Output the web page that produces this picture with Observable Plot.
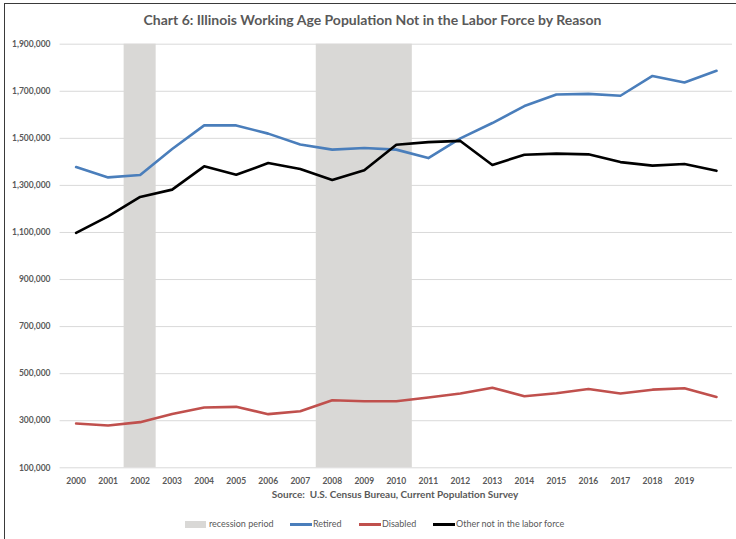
<!DOCTYPE html>
<html>
<head>
<meta charset="utf-8">
<script src="https://cdn.jsdelivr.net/npm/d3@7"></script>
<script src="https://cdn.jsdelivr.net/npm/@observablehq/plot@0.6"></script>
<style>
  html, body { margin: 0; padding: 0; background: #fff; }
  #wrap { position: relative; width: 736px; height: 539px; overflow: hidden; font-family: Lato, "Open Sans", sans-serif; color: #595959; }
  #border { position: absolute; left: 4px; top: 3px; width: 760px; height: 560px; border-left: 1.3px solid #3a3a3a; border-top: 1.3px solid #3a3a3a; }
  #title { position: absolute; left: 0; top: 11px; width: 745px; text-align: center; font-size: 14px; font-weight: bold; color: #595959; }
  #chart { position: absolute; left: 0; top: 30px; }
  #source { position: absolute; left: 0; top: 488px; width: 790px; text-align: center; font-size: 10px; font-weight: bold; color: #595959; }
  #legend { position: absolute; top: 518px; left: 0; width: 736px; height: 12px; font-size: 9px; color: #595959; }
  .item { position: absolute; top: 0; height: 12px; line-height: 12px; white-space: nowrap; }
  .sw { position: absolute; }
</style>
</head>
<body>
<div id="wrap">
  <div id="border"></div>
  <div id="title">Chart 6: Illinois Working Age Population Not in the Labor Force by Reason</div>
  <div id="chart"></div>
  <div id="source">Source:&nbsp; U.S. Census Bureau, Current Population Survey</div>
  <div id="legend"></div>
</div>
<script>
const years = [2000,2001,2002,2003,2004,2005,2006,2007,2008,2009,2010,2011,2012,2013,2014,2015,2016,2017,2018,2019,2020];
const yearLabels = [2000,2001,2002,2003,2004,2005,2006,2007,2008,2009,2010,2011,2012,2013,2014,2015,2016,2017,2018,2019];
const retired = [1378000,1334000,1344000,1455000,1555000,1555000,1520000,1474000,1452000,1459000,1452000,1416000,1500000,1565000,1637000,1686000,1689000,1681000,1765000,1737000,1787000];
const disabled = [288000,280000,294000,329000,356000,359000,328000,340000,387000,383000,383000,399000,416000,440000,404000,417000,435000,416000,432000,438000,401000];
const other = [1098000,1168000,1251000,1282000,1381000,1345000,1395000,1370000,1323000,1364000,1473000,1484000,1489000,1387000,1430000,1435000,1432000,1399000,1384000,1391000,1362000];
const recessionStart = [2001.5, 2007.5];
const recessionEnd = [2002.5, 2010.5];
const yTicks = [100000,300000,500000,700000,900000,1100000,1300000,1500000,1700000,1900000];
const seriesNames = ["Retired","Disabled","Other not in the labor force"];
const seriesColors = ["#4a7ebb","#c0504d","#000000"];

const rows = [];
years.forEach((yr, i) => {
  rows.push({year: yr, value: retired[i], series: seriesNames[0]});
  rows.push({year: yr, value: disabled[i], series: seriesNames[1]});
  rows.push({year: yr, value: other[i], series: seriesNames[2]});
});
const recessions = recessionStart.map((s, i) => ({start: s, end: recessionEnd[i]}));

const chart = Plot.plot({
  width: 736,
  height: 465,
  marginTop: 13.7,
  marginBottom: 27.7,
  marginLeft: 59.6,
  marginRight: 4,
  style: {fontFamily: "Lato, 'Open Sans', sans-serif", background: "transparent"},
  x: {domain: [1999.5, 2020.5], axis: null},
  y: {domain: [100000, 1900000], axis: null},
  color: {domain: seriesNames, range: seriesColors},
  marks: [
    Plot.ruleY(yTicks, {stroke: "#d9d9d9", strokeWidth: 1}),
    Plot.rect(recessions, {x1: "start", x2: "end", y1: 100000, y2: 1900000, fill: "#d9d8d6"}),
    Plot.line(rows, {x: "year", y: "value", z: "series", stroke: "series", strokeWidth: 2.6, strokeLinejoin: "round", strokeLinecap: "round"}),
    Plot.axisY(yTicks, {label: null, tickSize: 0, tickPadding: 9.6, tickFormat: d3.format(","), fontSize: 8.5, fontWeight: "bold", fill: "#595959"}),
    Plot.axisX(yearLabels, {label: null, tickSize: 0, tickPadding: 10, tickFormat: d => String(d), fontSize: 8.5, fontWeight: "bold", fill: "#595959"})
  ]
});
document.getElementById("chart").appendChild(chart);

// legend
const legend = document.getElementById("legend");
const items = [
  {label: "recession period", type: "box", color: "#d9d8d6", left: 185},
  {label: seriesNames[0], type: "line", color: seriesColors[0], left: 290},
  {label: seriesNames[1], type: "line", color: seriesColors[1], left: 359},
  {label: seriesNames[2], type: "line", color: seriesColors[2], left: 433}
];
items.forEach(it => {
  const d = document.createElement("div");
  d.className = "item";
  d.style.left = it.left + "px";
  const sw = document.createElement("div");
  sw.className = "sw";
  if (it.type === "box") {
    sw.style.cssText = `left:0;top:3px;width:21px;height:7px;background:${it.color}`;
  } else {
    sw.style.cssText = `left:0;top:5px;width:22px;height:2.6px;background:${it.color}`;
  }
  d.appendChild(sw);
  const t = document.createElement("span");
  t.style.marginLeft = (it.type === "box" ? 24 : 23) + "px";
  t.textContent = it.label;
  d.appendChild(t);
  legend.appendChild(d);
});
</script>
</body>
</html>
